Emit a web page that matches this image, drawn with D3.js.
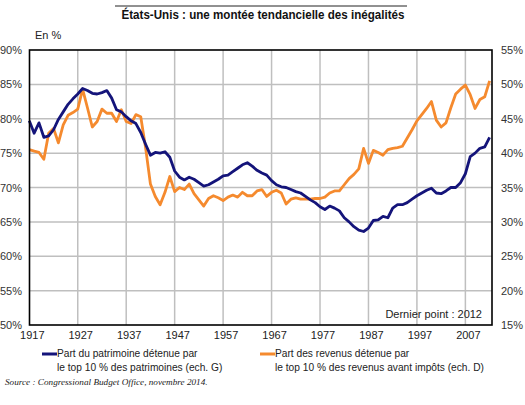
<!DOCTYPE html>
<html>
<head>
<meta charset="utf-8">
<script src="https://cdn.jsdelivr.net/npm/d3@7"></script>
<style>
  html, body { margin: 0; padding: 0; background: #fff; }
  svg { display: block; }
</style>
</head>
<body>
<svg id="chart" width="525" height="405"></svg>
<script>
// ---- Data ----
const years = d3.range(1917, 2013);
const wealthTop10 = [ // left axis, %
  79.7, 77.9, 79.4, 77.3, 77.5, 78.4, 79.9, 81.0, 82.1, 82.9,
  83.6, 84.4, 84.1, 83.7, 83.6, 83.8, 84.1, 83.0, 81.3, 81.0,
  80.3, 79.7, 79.3, 78.0, 76.3, 74.7, 75.1, 75.0, 75.2, 74.4,
  72.4, 71.5, 71.1, 71.5, 71.2, 70.7, 70.2, 70.4, 70.8, 71.2,
  71.7, 71.8, 72.3, 72.8, 73.3, 73.6, 73.1, 72.5, 72.1, 71.8,
  71.0, 70.4, 70.1, 70.0, 69.7, 69.4, 69.2, 68.7, 68.2, 67.8,
  67.2, 66.8, 67.3, 67.0, 66.6, 65.6, 65.0, 64.3, 63.8, 63.6,
  64.1, 65.2, 65.3, 65.8, 65.6, 67.0, 67.5, 67.5, 67.8, 68.3,
  68.8, 69.2, 69.6, 69.9, 69.2, 69.1, 69.5, 70.0, 70.0, 70.7,
  72.0, 74.5, 75.0, 75.7, 75.9, 77.3
];
const incomeTop10 = [ // right axis, %
  40.5, 40.3, 40.1, 39.1, 42.9, 43.6, 41.5, 44.1, 45.5, 45.9,
  46.4, 49.3, 46.6, 43.8, 44.6, 46.4, 45.8, 45.8, 44.6, 46.3,
  44.6, 44.3, 45.6, 45.3, 40.8, 35.5, 33.7, 32.5, 34.3, 36.6,
  34.4, 35.0, 34.7, 35.5, 34.1, 33.2, 32.3, 33.4, 33.8, 33.5,
  33.1, 33.6, 33.9, 33.6, 34.3, 33.8, 33.8, 34.5, 34.7, 33.7,
  34.3, 34.6, 34.2, 32.6, 33.3, 33.5, 33.3, 33.3, 33.3, 33.4,
  33.4, 33.6, 34.2, 34.5, 34.5, 35.4, 36.3, 36.9, 37.7, 40.7,
  38.5, 40.4, 40.1, 39.7, 40.5, 40.7, 40.8, 41.0, 42.2, 43.4,
  44.7, 45.6, 46.5, 47.5, 44.8, 43.8, 44.4, 46.6, 48.6, 49.3,
  49.9, 48.5, 46.5, 47.8, 48.2, 50.5
];
const xTickYears = [1917, 1927, 1937, 1947, 1957, 1967, 1977, 1987, 1997, 2007];
const leftTicks = [50, 55, 60, 65, 70, 75, 80, 85, 90];
const rightTicks = [15, 20, 25, 30, 35, 40, 45, 50, 55];

const title = "États-Unis : une montée tendancielle des inégalités";
const unitLabel = "En %";
const legendBlue = ["Part du patrimoine détenue par", "le top 10 % des patrimoines (ech. G)"];
const legendOrange = ["Part des revenus détenue par", "le top 10 % des revenus avant impôts (ech. D)"];
const lastPoint = "Dernier point : 2012";
const source = "Source : Congressional Budget Office, novembre 2014.";

// ---- Layout ----
const svg = d3.select("#chart");
const L = 29.5, R = 492, T = 50, B = 325;
const blue = "#14147a", orange = "#f58a2e", grid = "#bfbfbf";

const x = d3.scaleLinear().domain([1917, 2012]).range([29.3, 489.6]);
const yL = d3.scaleLinear().domain([50, 90]).range([B, T]);
const yR = d3.scaleLinear().domain([15, 55]).range([B, T]);

// Title
svg.append("line").attr("x1", 115).attr("x2", 407).attr("y1", 6).attr("y2", 6)
  .attr("stroke", "#222").attr("stroke-width", 1);
svg.append("text").attr("x", 263).attr("y", 19).attr("text-anchor", "middle")
  .attr("font-family", "'Liberation Sans Narrow', 'Liberation Sans', Arial, sans-serif")
  .attr("font-weight", "bold").attr("font-size", 13).attr("fill", "#111")
  .attr("textLength", 283).attr("lengthAdjust", "spacingAndGlyphs")
  .text(title);

svg.append("text").attr("x", 35).attr("y", 39)
  .attr("font-family", "'Liberation Sans', Arial, sans-serif")
  .attr("font-size", 11).attr("fill", "#222").text(unitLabel);

// Gridlines
const g = svg.append("g");
g.selectAll(".hg").data(leftTicks.slice(1, -1)).join("line")
  .attr("x1", L).attr("x2", R).attr("y1", d => yL(d)).attr("y2", d => yL(d))
  .attr("stroke", grid).attr("stroke-width", 1.5);
g.selectAll(".vg").data(xTickYears.slice(1)).join("line")
  .attr("x1", d => x(d)).attr("x2", d => x(d)).attr("y1", T).attr("y2", B)
  .attr("stroke", grid).attr("stroke-width", 1.5);

// Lines
const lineL = d3.line().x((d, i) => x(years[i])).y(d => yL(d));
const lineR = d3.line().x((d, i) => x(years[i])).y(d => yR(d));
svg.append("path").datum(incomeTop10).attr("d", lineR)
  .attr("fill", "none").attr("stroke", orange).attr("stroke-width", 2.8)
  .attr("stroke-linejoin", "round");
svg.append("path").datum(wealthTop10).attr("d", lineL)
  .attr("fill", "none").attr("stroke", blue).attr("stroke-width", 2.8)
  .attr("stroke-linejoin", "round");

// Frame
svg.append("rect").attr("x", L).attr("y", T).attr("width", R - L).attr("height", B - T)
  .attr("fill", "none").attr("stroke", "#000").attr("stroke-width", 1.6);

// Axes labels
const axisFont = "'Liberation Sans', Arial, sans-serif";
svg.selectAll(".yl").data(leftTicks).join("text")
  .attr("x", 22).attr("y", d => yL(d) + 4).attr("text-anchor", "end")
  .attr("font-family", axisFont).attr("font-size", 11).attr("fill", "#333")
  .text(d => d + "%");
svg.selectAll(".yr").data(rightTicks).join("text")
  .attr("x", 501).attr("y", d => yR(d) + 4).attr("text-anchor", "start")
  .attr("font-family", axisFont).attr("font-size", 11).attr("fill", "#333")
  .text(d => d + "%");
svg.selectAll(".xl").data(xTickYears).join("text")
  .attr("x", d => x(d) + 3).attr("y", 339).attr("text-anchor", "middle")
  .attr("font-family", axisFont).attr("font-size", 11).attr("fill", "#222")
  .text(d => d);

// Last point note
svg.append("text").attr("x", 482).attr("y", 318).attr("text-anchor", "end")
  .attr("font-family", axisFont).attr("font-size", 11).attr("fill", "#222")
  .text(lastPoint);

// Legend
function legend(x0, color, lines) {
  svg.append("line").attr("x1", x0).attr("x2", x0 + 15).attr("y1", 354).attr("y2", 354)
    .attr("stroke", color).attr("stroke-width", 3);
  lines.forEach((t, i) => {
    svg.append("text").attr("x", x0 + 15).attr("y", 357 + i * 14)
      .attr("font-family", axisFont).attr("font-size", 10.2).attr("fill", "#222").text(t);
  });
}
legend(42, blue, legendBlue);
legend(260, orange, legendOrange);

// Source
svg.append("text").attr("x", 5).attr("y", 385)
  .attr("font-family", "'Liberation Serif', 'Times New Roman', serif")
  .attr("font-style", "italic").attr("font-size", 9.2).attr("fill", "#222")
  .text(source);
</script>
</body>
</html>
